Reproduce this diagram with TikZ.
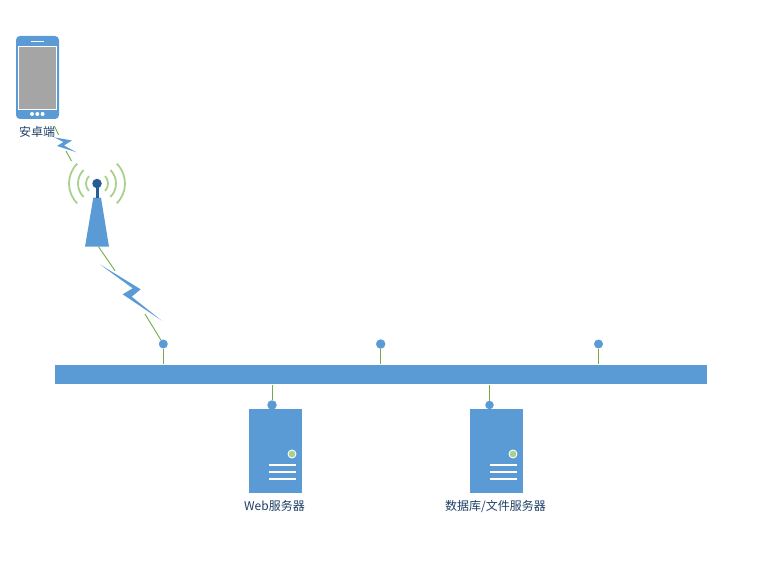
\documentclass[tikz,border=0pt]{standalone}
\usepackage{fontspec}
\setmainfont{Noto Sans CJK SC}
\definecolor{busblue}{HTML}{5B9BD5}
\definecolor{darkblue}{HTML}{255E96}
\definecolor{wire}{HTML}{70AD47}
\definecolor{wave}{HTML}{A9D18E}
\definecolor{labelblue}{HTML}{1F3F66}
\definecolor{screengray}{HTML}{A5A5A5}
\tikzset{
  dot/.style={circle, fill=busblue, inner sep=0pt, minimum size=#1},
  keydot/.style={circle, fill=white, inner sep=0pt, minimum size=4pt},
  server/.style={rectangle, fill=busblue, inner sep=0pt, minimum width=53pt, minimum height=84pt},
  led/.style={circle, fill=wave, draw=white, line width=0.9pt, inner sep=0pt, minimum size=8pt},
  caption/.style={text=labelblue, font=\fontsize{12}{14}\selectfont, inner sep=0pt},
  wire/.style={draw=wire, line width=0.9pt},
  wavearc/.style={draw=wave, line width=1.8pt},
  slot/.style={draw=white, line width=2pt}
}
\begin{document}
\begin{tikzpicture}[x=1pt, y=-1pt]
  \useasboundingbox (0, 0) rectangle (760, 564);

  % phone
  \node[rectangle, rounded corners=4pt, fill=busblue, inner sep=0pt, minimum width=43pt, minimum height=83pt] (phone) at (37.5, 77.5) {};
  \node[rectangle, fill=screengray, draw=white, line width=1pt, inner sep=0pt, minimum width=38pt, minimum height=63pt] (screen) at (37.5, 78) {};
  \node[keydot] (key1) at (32, 114) {};
  \node[keydot] (key2) at (37.3, 114) {};
  \node[keydot] (key3) at (42.6, 114) {};
  \coordinate (earL) at (31, 41.2);
  \coordinate (earR) at (44, 41.2);
  \draw[white, line width=1pt] (earL) -- (earR);

  % wires of the upper link
  \coordinate (w1a) at (54.3, 126);
  \coordinate (w1b) at (58.7, 135);
  \coordinate (w2a) at (66, 151);
  \coordinate (w2b) at (71.5, 161);
  \draw[wire] (w1a) -- (w1b);
  \draw[wire] (w2a) -- (w2b);
  \fill[busblue] (54, 137.3) -- (72, 140.5) -- (64, 145.5) -- (76.5, 152.3) -- (57, 146) -- (63.5, 142) -- cycle;
  \node[caption] (phonetext) at (37, 132) {安卓端};

  % tower
  \fill[busblue] (93.3, 197.7) -- (101, 197.7) -- (109, 246.7) -- (85, 246.7) -- cycle;
  \coordinate (mastTop) at (97, 184);
  \coordinate (mastEnd) at (97, 197.7);
  \draw[darkblue, line width=3pt] (mastTop) -- (mastEnd);
  \node[circle, fill=darkblue, inner sep=0pt, minimum size=9.5pt] (ball) at (97, 183.5) {};
  \draw[wavearc] (ball) ++(-43:11) arc (-43:43:11);
  \draw[wavearc] (ball) ++(137:11) arc (137:223:11);
  \draw[wavearc] (ball) ++(-45:19) arc (-45:45:19);
  \draw[wavearc] (ball) ++(135:19) arc (135:225:19);
  \draw[wavearc] (ball) ++(-45:28) arc (-45:45:28);
  \draw[wavearc] (ball) ++(135:28) arc (135:225:28);

  % bus and its dots
  \node[rectangle, fill=busblue, inner sep=0pt, minimum width=652pt, minimum height=19pt] (bus) at (381, 374.5) {};
  \node[dot=9pt] (p1) at (163.3, 344) {};
  \node[dot=9.5pt] (p2) at (380.7, 344) {};
  \node[dot=9pt] (p3) at (598.5, 344) {};
  \node[dot=9.5pt] (p4) at (272, 405) {};
  \node[dot=8.5pt] (p5) at (489.5, 405) {};
  \coordinate (b1) at (163.3, 364);
  \coordinate (b2) at (380.7, 364);
  \coordinate (b3) at (598.5, 364);
  \coordinate (b4) at (272, 385);
  \coordinate (b5) at (489.5, 385);
  \draw[wire] (p1) -- (b1);
  \draw[wire] (p2) -- (b2);
  \draw[wire] (p3) -- (b3);
  \draw[wire] (b4) -- (p4);
  \draw[wire] (b5) -- (p5);

  % lower link
  \coordinate (w3a) at (98.5, 246.7);
  \coordinate (w3b) at (115, 270.7);
  \coordinate (w4a) at (145, 314);
  \draw[wire] (w3a) -- (w3b);
  \draw[wire] (w4a) -- (p1);
  \fill[busblue] (100, 264.5) -- (140.7, 289.3) -- (131.7, 296.7) -- (161.5, 320.5) -- (122.7, 294.3) -- (132.7, 288.3) -- cycle;

  % servers
  \node[server] (web) at (275.5, 451) {};
  \node[led] (webled) at (292, 454) {};
  \coordinate (web1a) at (269, 465.3);
  \coordinate (web1b) at (296, 465.3);
  \coordinate (web2a) at (269, 472);
  \coordinate (web2b) at (296, 472);
  \coordinate (web3a) at (269, 478.5);
  \coordinate (web3b) at (296, 478.5);
  \draw[slot] (web1a) -- (web1b);
  \draw[slot] (web2a) -- (web2b);
  \draw[slot] (web3a) -- (web3b);
  \node[caption] (webtext) at (274.5, 506) {Web服务器};

  \node[server] (db) at (496.5, 451) {};
  \node[led] (dbled) at (513, 454) {};
  \coordinate (db1a) at (490, 465.3);
  \coordinate (db1b) at (517, 465.3);
  \coordinate (db2a) at (490, 472);
  \coordinate (db2b) at (517, 472);
  \coordinate (db3a) at (490, 478.5);
  \coordinate (db3b) at (517, 478.5);
  \draw[slot] (db1a) -- (db1b);
  \draw[slot] (db2a) -- (db2b);
  \draw[slot] (db3a) -- (db3b);
  \node[caption] (dbtext) at (495.5, 506) {数据库/文件服务器};
\end{tikzpicture}
\end{document}
